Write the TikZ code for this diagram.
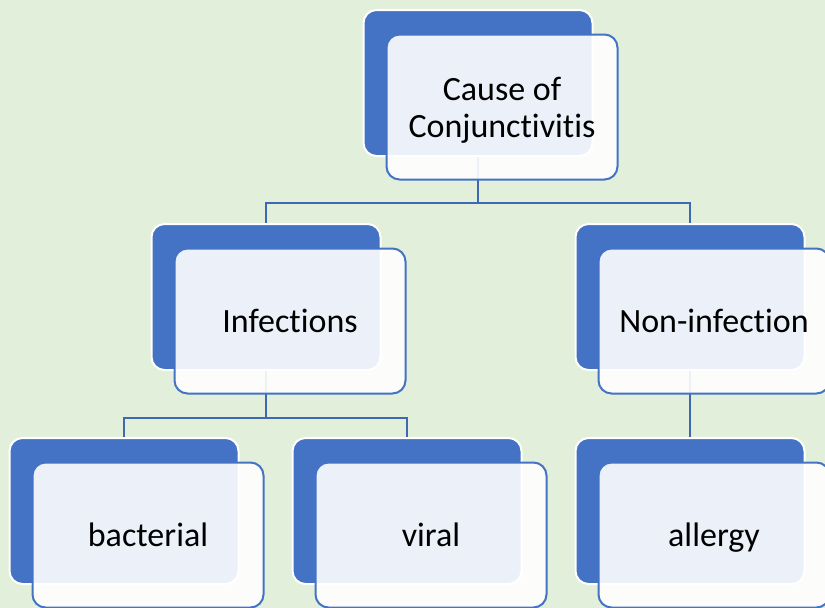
\documentclass[tikz,border=0pt]{standalone}
\usepackage{fontspec}
\setmainfont{Carlito}[Ligatures=NoCommon]
\usepackage{xcolor}
\usepackage{tikz}
\usetikzlibrary{positioning}
\usetikzlibrary{calc}
\definecolor{bgcol}{HTML}{E2EFDA}
\definecolor{boxblue}{HTML}{4472C4}
\definecolor{linkblue}{HTML}{3E68B4}

\begin{document}
\begin{tikzpicture}[
  x=1pt,y=-1pt,
  link/.style ={
    draw=linkblue,line width=2pt
  },
  back/.style={
    rectangle,
    rounded corners=13pt,
    draw=white,
    line width=2pt,
    fill=boxblue,
    minimum width=229pt,
    minimum height=146pt},
  front/.style={
    rectangle,
    rounded corners=13pt,
    draw=boxblue,
    line width=2pt,
    fill=white,
    fill opacity=0.9,
    minimum width=231pt,
    minimum height=145pt},
  lbl/.style={
    font=\fontsize{34}{37}\selectfont,
    text depth=0pt,
    align=center},
]

  \def\shift{24}%
  \def\lvlone{83}%
  \def\lvltwo{297}%
  \def\lvlthree{511}%

  \useasboundingbox (0,0) rectangle (825,608);
  \fill[bgcol] (0,0) rectangle (825,608);

    % Back boxes
  \foreach \name/\px/\py in {cause/478/\lvlone, infect/266/\lvltwo, noninf/690/\lvltwo,
      bact/124/\lvlthree, viral/407/\lvlthree, allergy/690/\lvlthree} {
    \node[back] (\name b) at (\px, \py) {};
  }

    % Tree lines
  \coordinate (bus1) at (478, 203);
  \coordinate (bus2) at (266, 418);
  \draw[link] (causeb.south) -- (bus1);
  \draw[link] (infectb.north) |- (bus1) -| (noninfb.north);
  \draw[link] (infectb.south) -- (bus2);
  \draw[link] (bactb.north) |- (bus2) -| (viralb.north);
  \draw[link] (noninfb.south) -- (allergyb.north);

    % Front boxes
  \foreach \name/\px/\py/\txt in {cause/478/\lvlone/{Cause of\\Conjunctivitis},
      infect/266/\lvltwo/Infections, noninf/690/\lvltwo/Non-infection,
      bact/124/\lvlthree/bacterial, viral/407/\lvlthree/viral,
      allergy/690/\lvlthree/allergy} {
    \node[front] (\name f) at (\px+\shift, \py+\shift) {};
    \node[lbl] (\name t) at (\px+\shift, \py+\shift) {\txt};
  }

\end{tikzpicture}
\end{document}
